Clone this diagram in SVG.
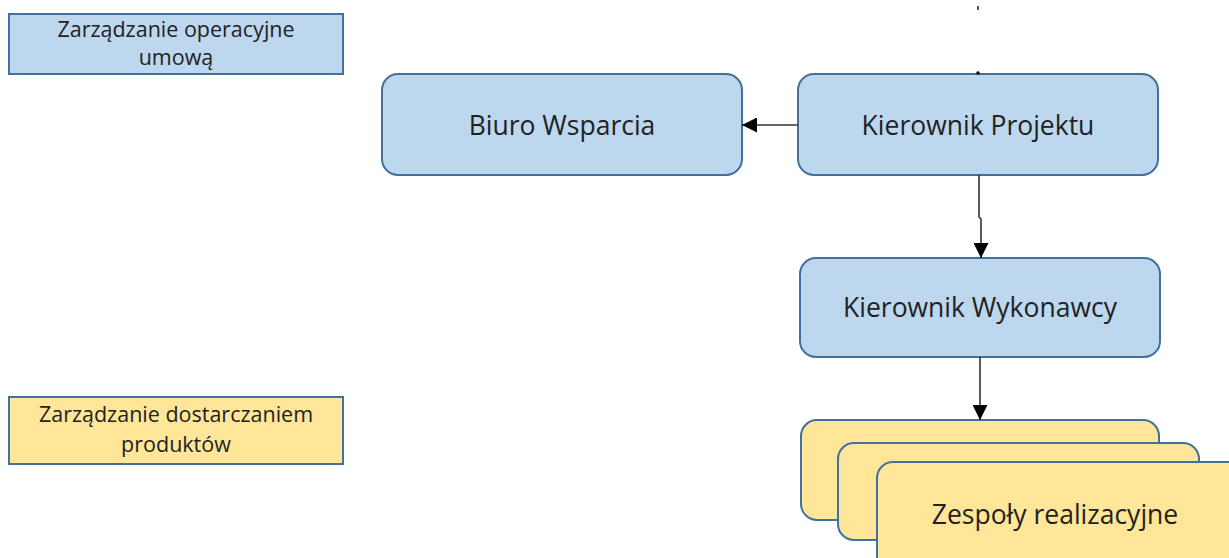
<svg xmlns="http://www.w3.org/2000/svg" width="1229" height="558" viewBox="0 0 1229 558">
<style>
.blue{fill:#BDD7EE;stroke:#41719C;stroke-width:2}
.yel{fill:#FFE699;stroke:#41719C;stroke-width:2}
.t{font-family:"Open Sans","Liberation Sans",sans-serif;fill:#222;text-anchor:middle}
.big{font-size:26.5px}
.sm{font-size:21.5px}
.con{stroke:#333;stroke-width:1.6;fill:none}
</style>
<defs>
<marker id="ah" viewBox="0 0 10 10" refX="10" refY="5" markerWidth="15" markerHeight="15" markerUnits="userSpaceOnUse" orient="auto">
<path d="M0,0 L10,5 L0,10 Z" fill="#000"/>
</marker>
</defs>
<rect width="1229" height="558" fill="#fff"/>
<g id="legend-blue">
<rect class="blue" x="9" y="14" width="334" height="60"/>
<text class="t sm" x="176" y="37">Zarządzanie operacyjne</text>
<text class="t sm" x="176" y="65">umową</text>
</g>
<g id="legend-yellow">
<rect class="yel" x="9" y="397" width="334" height="67"/>
<text class="t sm" x="176" y="422">Zarządzanie dostarczaniem</text>
<text class="t sm" x="176" y="452">produktów</text>
</g>
<g id="biuro">
<rect class="blue" x="382" y="74" width="360" height="101" rx="16"/>
<text class="t big" x="562" y="135">Biuro Wsparcia</text>
</g>
<g id="kp">
<rect class="blue" x="798" y="74" width="360" height="101" rx="16"/>
<text class="t big" x="978" y="135">Kierownik Projektu</text>
</g>
<g id="kw">
<rect class="blue" x="800" y="258" width="360" height="99" rx="16"/>
<text class="t big" x="980" y="317">Kierownik Wykonawcy</text>
</g>
<g id="zespoly">
<rect class="yel" x="801" y="420" width="358" height="100" rx="16"/>
<rect class="yel" x="838" y="443" width="361" height="97" rx="16"/>
<rect class="yel" x="877" y="462" width="370" height="110" rx="16"/>
<text class="t big" x="1055" y="524">Zespoły realizacyjne</text>
</g>
<g id="connectors">
<line x1="978" y1="6" x2="978" y2="10" stroke="#555" stroke-width="2"/>
<circle cx="978" cy="73" r="1.8" fill="#111"/>
<line class="con" x1="798" y1="125" x2="742" y2="125" marker-end="url(#ah)"/>
<path class="con" d="M979,175 L979,217 L981,219 L981,258" marker-end="url(#ah)"/>
<line class="con" x1="980" y1="357" x2="980" y2="420" marker-end="url(#ah)"/>
</g>
</svg>
